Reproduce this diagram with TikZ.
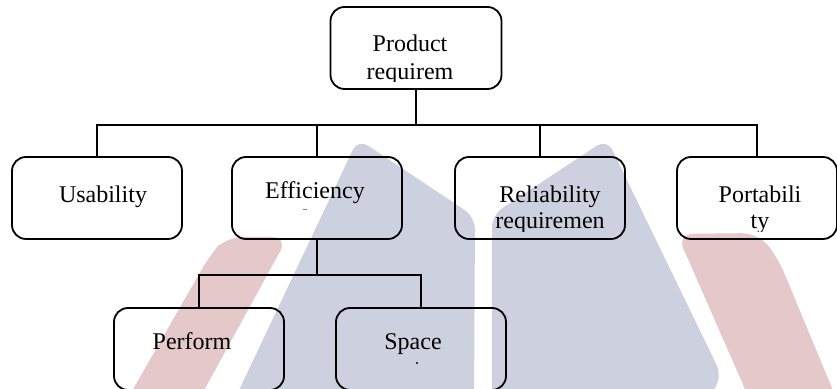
\documentclass[tikz,border=0pt]{standalone}
\usepackage{fontspec}
\setmainfont{Liberation Serif}
\definecolor{markgray}{RGB}{205,208,222}
\definecolor{markred}{RGB}{228,200,202}
\tikzset{
  reqbox/.style={draw, line width=0.9pt, rounded corners=7pt, minimum width=85pt, minimum height=41pt, inner sep=0pt},
  reqtext/.style={anchor=base, inner sep=0pt, font=\fontsize{12}{14}\selectfont},
  link/.style={line width=0.9pt}
}
\begin{document}
\begin{tikzpicture}[x=0.5pt, y=-0.5pt]
      \useasboundingbox (0,0) rectangle (837,389);
      % watermark behind the tree
      \fill[markgray, rounded corners=6pt] (232,405) -- (358,139) -- (475,217) -- (474,405) -- cycle;
      \fill[markgray, rounded corners=6pt] (492,405) -- (492,215) -- (607,139) -- (722,376) -- (705,405) -- cycle;
      \fill[markred, rounded corners=8pt] (124,405) -- (210,255) -- (226,237) -- (288,237) -- (196,405) -- cycle;
      \fill[markred, rounded corners=8pt] (752,405) -- (677,234) -- (758,233) -- (778,258) -- (839,405) -- cycle;
      % boxes
      \node[reqbox, minimum width=85.5pt] (prod) at (416,48) {};
      \node[reqbox] (use) at (97,198) {};
      \node[reqbox] (eff) at (317,198) {};
      \node[reqbox] (rel) at (540,198) {};
      \node[reqbox, minimum width=80pt] (port) at (757,198) {};
      \node[reqbox] (perf) at (199,349) {};
      \node[reqbox] (space) at (421,349) {};
      % connectors
      \draw[link] (prod.south) -- ++(0,35) coordinate (bar);
      \draw[link] (use.north) |- (bar) -| (port.north);
      \draw[link] (eff.north) -- (eff.north |- bar);
      \draw[link] (rel.north) -- (rel.north |- bar);
      \draw[link] (eff.south) -- ++(0,35) coordinate (sub);
      \draw[link] (perf.north) |- (sub) -| (space.north);
      % labels
      \node[reqtext] (usetxt) at (103,203) {Usability};
      \node[reqtext] (efftxt) at (315,199) {Efficiency};
      \node[reqtext] (perftxt) at (192,350) {Perform};
      \node[reqtext] (spacetxt) at (413,350) {Space};
      \begin{scope}
        \clip (prod.north west) rectangle ([yshift=4pt]prod.south east)
              (rel.north west) rectangle ([yshift=4pt]rel.south east)
              (port.north west) rectangle ([yshift=4pt]port.south east);
        \node[reqtext] (prodtxt) at (410,52) {Product};
        \node[reqtext] (prodtxtb) at (410,80) {requirem};
        \node[reqtext] (reltxt) at (550,203) {Reliability};
        \node[reqtext] (reltxtb) at (550,229) {requiremen};
        \node[reqtext] (porttxt) at (760,203) {Portabili};
        \node[reqtext] (porttxtb) at (760,229) {ty};
      \end{scope}
      \fill[gray] (303,209) rectangle (307,210);
      \fill (417,363) circle (0.6pt);
    \end{tikzpicture}
\end{document}
